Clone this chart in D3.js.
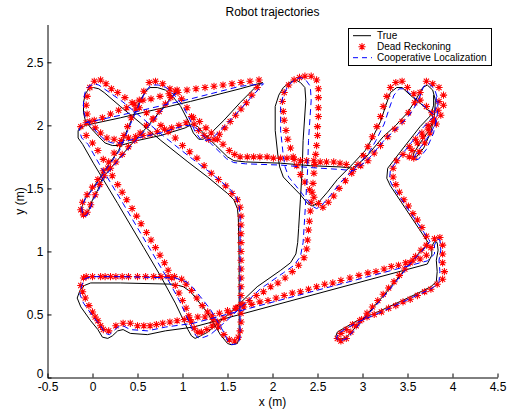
<!DOCTYPE html>
<html>
<head>
<meta charset="utf-8">
<script src="https://cdn.jsdelivr.net/npm/d3@7"></script>
<style>
  html, body { margin: 0; padding: 0; background: #fff; }
  text { font-family: "Liberation Sans", Arial, Helvetica, sans-serif; }
</style>
</head>
<body>
<svg id="chart" width="509" height="413"></svg>
<script>
// ---- labels and ticks ----
const titleText = "Robot trajectories";
const xLabel = "x (m)";
const yLabel = "y (m)";
const xTicks = [-0.5, 0, 0.5, 1, 1.5, 2, 2.5, 3, 3.5, 4, 4.5];
const yTicks = [0, 0.5, 1, 1.5, 2, 2.5];
const seriesNames = ["True", "Dead Reckoning", "Cooperative Localization"];

// ---- ground-truth trajectory (m) ----
const truePath = [
  [0.92,2.26],[0.76,2.12],[0.61,1.99],[0.42,1.84],[0.26,1.71],[0.11,1.58],[0.06,1.49],[0.00,1.41],[-0.04,1.33],[-0.08,1.29],[-0.11,1.30],[-0.12,1.35],[-0.08,1.42],[-0.01,1.49],[0.07,1.57],[0.14,1.65],[0.29,1.80],[0.40,1.99],[0.53,2.20],[0.59,2.27],[0.64,2.30],[0.72,2.30],[0.81,2.28],[0.89,2.23],[0.98,2.15],[1.06,2.04],[1.12,1.94],[1.18,1.89],[1.23,1.89],[1.29,1.92],[1.46,2.04],[1.64,2.18],[1.82,2.31],[1.89,2.34],
  [1.64,2.29],[1.09,2.19],[0.31,2.06],[-0.08,2.00],[-0.16,1.96],
  [-0.16,1.90],[-0.11,1.85],[0.01,1.70],[0.28,1.38],[0.57,1.03],[0.76,0.80],[0.92,0.59],[1.06,0.38],[1.10,0.33],[1.14,0.31],[1.20,0.33],
  [1.28,0.36],[1.46,0.47],[1.64,0.59],[1.83,0.72],[2.09,0.85],[2.20,0.91],[2.26,0.98],[2.28,1.07],[2.29,1.18],[2.31,1.41],[2.33,1.65],[2.34,1.88],[2.37,2.20],[2.36,2.30],[2.31,2.34],[2.26,2.36],[2.19,2.34],[2.12,2.30],[2.07,2.24],[2.03,2.15],[2.03,1.96],[2.06,1.76],[2.08,1.67],[2.12,1.59],[2.20,1.53],[2.31,1.45],[2.39,1.38],[2.44,1.36],[2.50,1.38],[2.61,1.47],[2.72,1.57],[2.90,1.70],[3.03,1.80],[3.11,1.90],[3.20,2.03],[3.26,2.16],[3.31,2.26],[3.38,2.30],[3.44,2.30],
  [3.53,2.24],[3.70,2.14],[3.77,2.09],[3.79,2.04],[3.73,1.95],[3.64,1.86],[3.57,1.78],[3.56,1.75],[3.60,1.75],[3.68,1.82],[3.76,1.95],[3.80,2.08],[3.81,2.20],[3.78,2.28],[3.72,2.32],[3.67,2.30],
  [3.59,2.20],[3.50,2.10],[3.37,2.00],[3.23,1.91],[3.03,1.74],[2.89,1.66],
  [2.76,1.67],[2.42,1.68],[2.09,1.70],[1.70,1.71],[1.57,1.72],[1.50,1.75],[1.37,1.84],[1.23,1.94],[1.17,1.99],[1.11,2.01],[1.03,1.98],[0.76,1.92],[0.50,1.88],[0.31,1.84],[0.22,1.84],[0.14,1.86],[0.07,1.91],[-0.02,1.98],[-0.08,2.04],[-0.10,2.10],[-0.10,2.18],[-0.08,2.25],[-0.04,2.29],[0.01,2.30],[0.07,2.29],[0.13,2.26],
  [0.31,2.15],[0.53,2.02],[0.76,1.88],[1.06,1.71],[1.28,1.59],[1.50,1.46],[1.57,1.41],[1.61,1.34],[1.62,1.27],
  [1.63,0.93],[1.63,0.56],[1.63,0.32],[1.61,0.27],[1.54,0.26],[1.50,0.27],[1.42,0.34],[1.28,0.51],[1.17,0.61],[1.09,0.68],[1.01,0.72],[0.90,0.74],
  [0.31,0.75],[-0.02,0.75],[-0.09,0.73],[-0.14,0.69],[-0.17,0.63],[-0.13,0.56],[-0.02,0.45],[0.06,0.38],[0.11,0.32],[0.17,0.31],[0.22,0.33],[0.28,0.37],[0.34,0.38],[0.42,0.35],[0.61,0.34],[0.81,0.37],[1.12,0.40],
  [3.72,0.90],[3.77,0.97],[3.77,1.04],[3.80,1.08],[3.83,1.07],[3.84,1.01],[3.82,0.93],[3.83,0.84],[3.82,0.76],[3.76,0.72],
  [3.59,0.66],[3.20,0.53],[2.94,0.45],[2.79,0.39],[2.72,0.36],[2.70,0.32],[2.74,0.30],[2.82,0.32],[2.94,0.41],
  [3.26,0.67],[3.53,0.91],[3.70,1.04],[3.73,1.07],
  [3.31,1.52],[3.27,1.58],[3.28,1.66],[3.42,1.79],[3.64,1.99],[3.76,2.08],[3.79,2.16],[3.79,2.24]
];

// ---- dead-reckoning estimates (m), one per sample ----
const deadReckoning = [
  [0.94,2.28],[0.87,2.22],[0.81,2.17],[0.74,2.11],[0.67,2.05],[0.60,2.00],[0.53,1.94],[0.47,1.88],[0.40,1.83],[0.33,1.77],[0.26,1.71],[0.20,1.66],[0.13,1.60],
  [0.08,1.53],[0.03,1.45],[-0.02,1.37],[-0.06,1.31],[-0.10,1.29],[-0.13,1.33],[-0.11,1.39],[-0.06,1.45],[0.00,1.51],[0.06,1.57],[0.12,1.64],
  [0.18,1.71],[0.24,1.78],[0.30,1.85],[0.35,1.92],[0.39,1.99],[0.43,2.06],[0.48,2.13],[0.52,2.20],[0.57,2.27],
  [0.63,2.34],[0.70,2.35],[0.78,2.33],[0.86,2.29],[0.92,2.27],[0.99,2.21],[1.05,2.14],[1.10,2.07],[1.13,2.01],[1.18,1.96],[1.24,1.92],[1.29,1.89],
  [1.35,1.89],[1.41,1.93],[1.47,1.98],[1.53,2.03],[1.59,2.08],[1.65,2.13],[1.71,2.18],[1.77,2.24],[1.83,2.30],
  [1.85,2.36],[1.75,2.35],[1.65,2.34],[1.55,2.33],[1.45,2.32],[1.35,2.31],[1.25,2.30],[1.15,2.29],[1.05,2.28],[0.95,2.26],[0.85,2.25],[0.75,2.23],[0.65,2.21],[0.56,2.20],[0.47,2.17],[0.38,2.14],[0.29,2.12],[0.20,2.09],[0.11,2.06],[0.02,2.04],[-0.07,2.02],[-0.13,1.99],
  [-0.07,1.92],[0.00,1.86],[0.06,1.80],[0.12,1.73],[0.17,1.66],[0.22,1.60],[0.28,1.53],[0.33,1.47],[0.38,1.41],[0.44,1.34],[0.49,1.28],[0.54,1.22],[0.60,1.15],[0.65,1.09],[0.70,1.03],[0.75,0.97],[0.80,0.91],[0.84,0.85],[0.88,0.79],[0.92,0.73],[0.96,0.67],[1.00,0.61],[1.04,0.55],[1.07,0.49],[1.10,0.44],[1.13,0.39],[1.17,0.36],[1.21,0.36],
  [1.27,0.38],[1.33,0.41],[1.39,0.44],[1.46,0.47],[1.53,0.51],[1.60,0.55],[1.67,0.58],[1.74,0.61],[1.82,0.65],[1.90,0.68],[1.98,0.72],[2.06,0.75],[2.14,0.79],[2.22,0.84],[2.29,0.89],[2.35,0.95],
  [2.38,1.02],[2.39,1.09],[2.40,1.17],[2.41,1.24],[2.42,1.32],[2.43,1.39],[2.44,1.47],[2.45,1.54],[2.46,1.62],[2.47,1.69],[2.48,1.77],[2.49,1.84],[2.50,1.92],[2.50,1.99],[2.51,2.07],[2.51,2.14],[2.51,2.22],[2.51,2.29],[2.49,2.36],[2.43,2.39],[2.36,2.39],
  [2.30,2.38],[2.24,2.36],[2.18,2.32],[2.13,2.26],[2.11,2.19],[2.12,2.11],[2.13,2.04],[2.15,1.96],[2.17,1.89],[2.20,1.82],[2.23,1.75],[2.27,1.68],[2.31,1.61],[2.36,1.55],[2.41,1.49],[2.46,1.43],[2.51,1.38],[2.56,1.35],
  [2.62,1.39],[2.68,1.44],[2.74,1.50],[2.81,1.56],[2.88,1.62],[2.95,1.69],[3.01,1.76],[3.06,1.83],[3.11,1.91],[3.16,1.99],[3.20,2.07],[3.23,2.15],[3.27,2.23],[3.31,2.30],[3.37,2.34],[3.44,2.35],
  [3.50,2.30],[3.57,2.25],[3.64,2.20],[3.71,2.15],[3.77,2.10],[3.78,2.03],[3.73,1.97],[3.67,1.91],[3.61,1.86],[3.55,1.80],[3.52,1.75],[3.57,1.74],[3.63,1.79],[3.69,1.86],[3.75,1.94],[3.82,2.01],[3.87,2.08],[3.90,2.16],[3.90,2.24],[3.85,2.30],[3.78,2.33],[3.71,2.35],
  [3.64,2.26],[3.58,2.18],[3.51,2.10],[3.44,2.03],[3.36,1.97],[3.28,1.91],[3.20,1.84],[3.13,1.78],[3.06,1.72],[2.98,1.68],[2.90,1.65],
  [2.82,1.69],[2.75,1.70],[2.68,1.71],[2.60,1.71],[2.53,1.71],[2.46,1.72],[2.38,1.72],[2.31,1.72],[2.24,1.73],[2.16,1.74],[2.09,1.74],[2.01,1.74],[1.94,1.75],[1.86,1.75],[1.79,1.75],[1.72,1.75],[1.64,1.75],[1.58,1.77],
  [1.52,1.80],[1.45,1.85],[1.39,1.89],[1.32,1.94],[1.26,1.98],[1.19,2.03],[1.12,2.06],
  [1.04,2.02],[0.96,2.00],[0.88,1.98],[0.80,1.97],[0.72,1.95],[0.64,1.93],[0.56,1.92],[0.48,1.91],[0.40,1.90],[0.32,1.88],[0.24,1.89],[0.16,1.90],[0.09,1.94],[0.03,1.98],[-0.03,2.03],[-0.06,2.09],
  [-0.07,2.16],[-0.06,2.23],[-0.03,2.30],[0.02,2.35],[0.09,2.36],[0.15,2.33],
  [0.21,2.29],[0.28,2.26],[0.36,2.22],[0.44,2.18],[0.52,2.14],[0.60,2.10],[0.68,2.05],[0.76,2.00],[0.84,1.95],[0.92,1.90],[1.00,1.84],[1.08,1.79],[1.16,1.74],[1.24,1.68],[1.32,1.62],[1.40,1.57],[1.48,1.52],[1.55,1.46],[1.61,1.41],[1.64,1.35],
  [1.65,1.28],[1.65,1.21],[1.65,1.14],[1.65,1.07],[1.65,1.00],[1.65,0.93],[1.65,0.86],[1.65,0.79],[1.65,0.72],[1.65,0.65],[1.65,0.58],[1.65,0.51],[1.65,0.44],[1.64,0.37],[1.62,0.32],[1.58,0.29],[1.52,0.30],[1.46,0.34],[1.40,0.40],[1.34,0.46],[1.28,0.52],[1.22,0.57],[1.16,0.63],[1.10,0.69],[1.04,0.74],[0.99,0.78],
  [0.91,0.80],[0.84,0.80],[0.76,0.80],[0.68,0.80],[0.59,0.80],[0.50,0.80],[0.40,0.80],[0.33,0.80],[0.26,0.80],[0.20,0.80],[0.14,0.80],[0.09,0.80],[0.00,0.80],[-0.07,0.80],[-0.10,0.79],
  [-0.13,0.73],[-0.11,0.68],[-0.08,0.63],[-0.04,0.57],[0.00,0.52],[0.03,0.48],[0.06,0.45],[0.09,0.41],[0.12,0.38],[0.18,0.37],[0.26,0.41],[0.34,0.43],[0.42,0.43],[0.50,0.41],[0.57,0.41],[0.64,0.41],[0.71,0.42],[0.78,0.43],[0.86,0.44],[0.94,0.45],[1.02,0.46],[1.08,0.46],
  [1.17,0.48],[1.25,0.48],[1.33,0.49],[1.41,0.51],[1.50,0.53],[1.59,0.55],[1.68,0.56],[1.77,0.58],[1.86,0.60],[1.95,0.61],[2.04,0.63],[2.13,0.65],[2.22,0.67],[2.31,0.68],[2.40,0.70],[2.49,0.72],[2.58,0.74],[2.67,0.75],[2.76,0.77],[2.86,0.79],[2.96,0.81],[3.06,0.83],[3.15,0.84],[3.24,0.86],[3.32,0.88],[3.40,0.89],[3.48,0.91],[3.56,0.93],[3.64,0.94],
  [3.71,0.97],[3.76,1.03],[3.80,1.10],[3.86,1.11],[3.89,1.05],[3.89,0.98],[3.89,0.91],[3.91,0.84],[3.89,0.78],[3.83,0.74],
  [3.76,0.70],[3.69,0.68],[3.61,0.65],[3.53,0.62],[3.45,0.60],[3.37,0.57],[3.29,0.55],[3.21,0.52],[3.13,0.50],[3.05,0.48],[2.97,0.45],[2.89,0.42],[2.82,0.38],[2.76,0.35],
  [2.72,0.31],[2.76,0.29],[2.82,0.31],
  [2.87,0.36],[2.93,0.41],[2.99,0.46],[3.05,0.51],[3.11,0.56],[3.17,0.61],[3.23,0.66],[3.29,0.71],[3.35,0.76],[3.41,0.81],[3.47,0.86],[3.53,0.91],[3.59,0.96],[3.65,1.01],[3.71,1.05],
  [3.71,1.12],[3.66,1.19],[3.61,1.25],[3.56,1.30],[3.51,1.36],[3.46,1.41],[3.41,1.47],[3.37,1.53],[3.34,1.59],[3.34,1.66],[3.38,1.72],[3.45,1.77],[3.52,1.83],[3.59,1.89],[3.66,1.94],[3.73,2.00],[3.80,2.05],[3.84,2.12],[3.85,2.19]
];

// ---- cooperative-localization estimate (m) ----
const coopLocalization = [
  [0.93,2.26],[0.77,2.12],[0.62,1.99],[0.43,1.84],[0.27,1.71],[0.12,1.58],[0.07,1.49],[0.01,1.41],[-0.03,1.33],[-0.07,1.28],[-0.11,1.29],[-0.12,1.35],[-0.08,1.42],[0.00,1.49],[0.08,1.57],[0.15,1.65],[0.30,1.80],[0.41,1.99],[0.54,2.20],[0.60,2.28],
  [0.65,2.32],[0.73,2.32],[0.82,2.30],[0.91,2.24],[1.00,2.16],[1.08,2.05],[1.14,1.95],[1.20,1.89],[1.25,1.88],
  [1.32,1.89],[1.49,2.01],[1.67,2.15],[1.85,2.29],[1.90,2.33],
  [1.64,2.31],[1.09,2.21],[0.31,2.08],[-0.08,2.02],[-0.15,1.97],
  [-0.12,1.90],[-0.05,1.85],[0.07,1.70],[0.34,1.38],[0.63,1.03],[0.82,0.80],[0.98,0.59],[1.11,0.38],[1.15,0.33],[1.19,0.31],[1.24,0.32],
  [1.31,0.34],[1.49,0.45],[1.67,0.57],[1.86,0.70],[2.12,0.83],[2.24,0.89],[2.31,0.96],
  [2.34,1.07],[2.35,1.18],[2.37,1.41],[2.39,1.65],[2.40,1.88],[2.43,2.20],[2.42,2.31],[2.37,2.36],[2.31,2.38],
  [2.24,2.36],[2.17,2.31],[2.12,2.24],[2.09,2.15],[2.09,1.96],[2.12,1.76],[2.14,1.67],[2.18,1.59],[2.26,1.52],[2.36,1.43],[2.44,1.36],[2.49,1.34],[2.54,1.36],
  [2.65,1.45],[2.76,1.55],[2.94,1.68],[3.07,1.78],[3.15,1.88],[3.24,2.01],[3.30,2.14],[3.35,2.24],[3.41,2.29],[3.47,2.29],
  [3.56,2.23],[3.72,2.13],[3.80,2.08],[3.82,2.03],[3.76,1.94],[3.67,1.85],[3.59,1.77],[3.57,1.73],[3.62,1.73],[3.71,1.81],[3.79,1.94],[3.83,2.08],[3.84,2.20],[3.80,2.29],[3.74,2.33],[3.68,2.31],
  [3.61,2.18],[3.52,2.08],[3.39,1.98],[3.25,1.89],[3.05,1.72],[2.90,1.64],
  [2.76,1.65],[2.42,1.665],[2.09,1.685],[1.70,1.695],[1.57,1.705],[1.49,1.735],[1.36,1.825],[1.22,1.925],[1.16,1.975],[1.11,1.995],
  [1.03,2.00],[0.76,1.94],[0.50,1.90],[0.31,1.86],[0.22,1.86],[0.14,1.88],[0.07,1.93],[-0.02,2.00],[-0.08,2.06],[-0.10,2.12],
  [-0.10,2.20],[-0.08,2.27],[-0.04,2.31],[0.01,2.33],[0.07,2.32],[0.13,2.29],
  [0.33,2.19],[0.55,2.06],[0.78,1.92],[1.08,1.75],[1.30,1.63],[1.52,1.50],[1.59,1.44],[1.63,1.36],[1.64,1.27],
  [1.64,0.93],[1.64,0.56],[1.64,0.32],[1.62,0.27],[1.55,0.26],[1.51,0.28],
  [1.45,0.37],[1.31,0.54],[1.20,0.64],[1.12,0.71],[1.04,0.76],[0.92,0.79],
  [0.31,0.80],[-0.02,0.80],[-0.09,0.78],
  [-0.12,0.73],[-0.14,0.66],[-0.10,0.59],[0.01,0.48],[0.09,0.41],[0.14,0.35],[0.19,0.34],
  [0.22,0.36],[0.28,0.40],[0.34,0.41],[0.42,0.38],[0.61,0.37],[0.81,0.40],[1.12,0.43],
  [3.72,0.925],
  [3.80,0.98],[3.80,1.05],[3.83,1.10],[3.86,1.09],[3.87,1.01],[3.85,0.93],[3.86,0.84],[3.85,0.76],[3.78,0.71],
  [3.60,0.65],[3.21,0.52],[2.95,0.44],[2.80,0.38],[2.73,0.35],[2.71,0.31],[2.75,0.29],[2.83,0.31],
  [2.95,0.41],[3.27,0.67],[3.54,0.91],[3.71,1.04],[3.75,1.08],
  [3.34,1.51],[3.30,1.57],[3.31,1.65],[3.45,1.78],[3.67,1.98],[3.79,2.07],[3.82,2.15],[3.82,2.23]
];

// ---- layout ----
const plot = { left: 47.5, right: 497.5, top: 24.5, bottom: 377.5 };
const svg = d3.select("#chart");

const x = d3.scaleLinear().domain([-0.5, 4.5]).range([plot.left, plot.right]);
const y = d3.scaleLinear().domain([0, 2.8]).range([plot.bottom, plot.top]);

svg.append("defs").append("clipPath").attr("id", "plotClip")
  .append("rect").attr("x", plot.left).attr("y", plot.top)
  .attr("width", plot.right - plot.left).attr("height", plot.bottom - plot.top);

// asterisk marker ('*'): four crossing strokes
const asterisk = "M-3.6,0H3.6M0,-3.6V3.6M-2.6,-2.6L2.6,2.6M-2.6,2.6L2.6,-2.6";

const line = d3.line().x(d => x(d[0])).y(d => y(d[1]));
const marks = svg.append("g").attr("clip-path", "url(#plotClip)");

// true path
marks.append("path").datum(truePath)
  .attr("d", line).attr("fill", "none")
  .attr("stroke", "#000").attr("stroke-width", 1)
  .attr("stroke-linejoin", "round");

// dead reckoning samples
marks.append("g").selectAll("path").data(deadReckoning).join("path")
  .attr("d", asterisk)
  .attr("transform", d => `translate(${x(d[0])},${y(d[1])})`)
  .attr("fill", "none").attr("stroke", "#ff0000").attr("stroke-width", 1.05);

// cooperative localization
marks.append("path").datum(coopLocalization)
  .attr("d", line).attr("fill", "none")
  .attr("stroke", "#0000ff").attr("stroke-width", 1)
  .attr("stroke-dasharray", "6,4")
  .attr("stroke-linejoin", "round");

// ---- axes (inward ticks, no box) ----
const fmt = d => String(d);
const xAxis = svg.append("g").attr("transform", `translate(0,${plot.bottom})`)
  .call(d3.axisBottom(x).tickValues(xTicks).tickFormat(fmt).tickSize(-4).tickSizeOuter(0).tickPadding(5));
const yAxis = svg.append("g").attr("transform", `translate(${plot.left},0)`)
  .call(d3.axisLeft(y).tickValues(yTicks).tickFormat(fmt).tickSize(-4).tickSizeOuter(0).tickPadding(4));

[xAxis, yAxis].forEach(g => {
  g.attr("font-family", null).attr("font-size", null);
  g.selectAll("text").attr("font-size", 12).attr("fill", "#000");
  g.selectAll("line,path").attr("stroke", "#000");
});
// the origin label sits a little higher so it clears the first x label
yAxis.selectAll("text").attr("dy", d => d === 0 ? "0em" : "0.32em");

// ---- titles ----
svg.append("text").attr("x", (plot.left + plot.right) / 2).attr("y", 16)
  .attr("text-anchor", "middle").attr("font-size", 12).text(titleText);
svg.append("text").attr("x", (plot.left + plot.right) / 2).attr("y", 406)
  .attr("text-anchor", "middle").attr("font-size", 12).text(xLabel);
svg.append("text")
  .attr("transform", `translate(24,${(plot.top + plot.bottom) / 2}) rotate(-90)`)
  .attr("text-anchor", "middle").attr("font-size", 12).text(yLabel);

// ---- legend ----
const leg = svg.append("g");
leg.append("rect").attr("x", 348.5).attr("y", 28.5).attr("width", 143).attr("height", 37)
  .attr("fill", "#fff").attr("stroke", "#000").attr("stroke-width", 1);
const rowY = [35.7, 46.7, 57.7];
leg.append("line").attr("x1", 353).attr("x2", 371).attr("y1", rowY[0]).attr("y2", rowY[0])
  .attr("stroke", "#000").attr("stroke-width", 1);
leg.append("path").attr("d", asterisk).attr("transform", `translate(362,${rowY[1]})`)
  .attr("fill", "none").attr("stroke", "#ff0000").attr("stroke-width", 1.05);
leg.append("line").attr("x1", 353).attr("x2", 372).attr("y1", rowY[2]).attr("y2", rowY[2])
  .attr("stroke", "#0000ff").attr("stroke-width", 1).attr("stroke-dasharray", "5,4");
leg.selectAll("text.lab").data(seriesNames).join("text").attr("class", "lab")
  .attr("x", 377).attr("y", (d, i) => rowY[i]).attr("dy", "0.35em")
  .attr("font-size", 10).text(d => d);
</script>
</body>
</html>
